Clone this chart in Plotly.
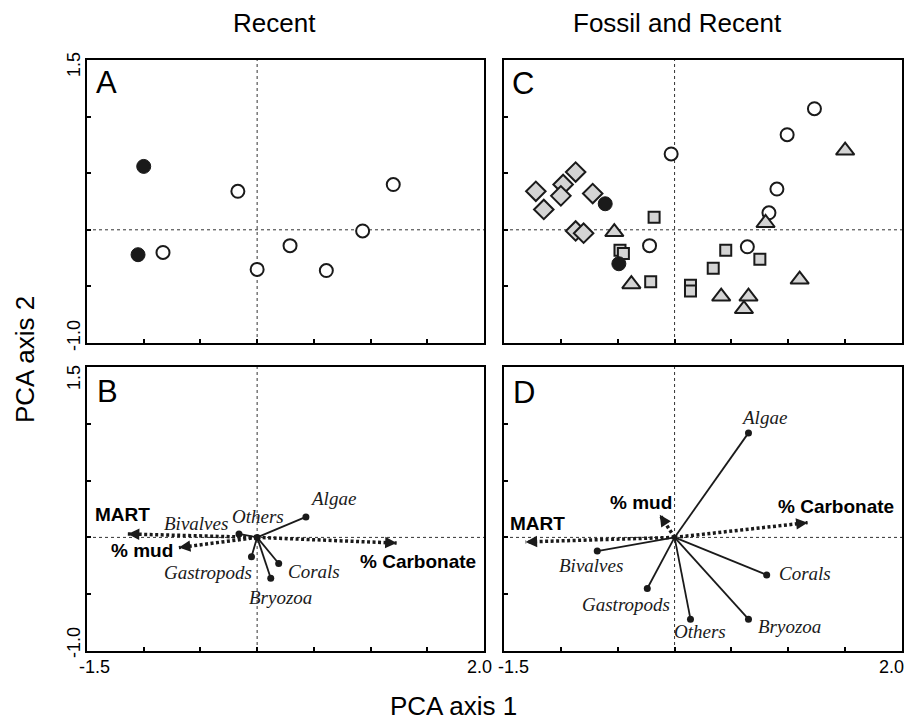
import math
import plotly.graph_objects as go

# ---------------- DATA ----------------
# Panel A (Recent): site scores
a_open_x = [-0.83, -0.17, 0.00, 0.29, 0.61, 0.93, 1.20]
a_open_y = [-0.20, 0.34, -0.35, -0.14, -0.36, -0.01, 0.40]
a_filled_x = [-1.00, -1.05]
a_filled_y = [0.56, -0.22]

# Panel C (Fossil and Recent): site scores
c_open_x = [1.23, 0.99, -0.03, 0.90, 0.83, -0.22, 0.64]
c_open_y = [1.07, 0.84, 0.67, 0.36, 0.15, -0.14, -0.15]
c_filled_x = [-0.61, -0.49]
c_filled_y = [0.23, -0.30]
c_diamond_x = [-0.87, -0.98, -1.22, -1.00, -0.72, -1.15, -0.87, -0.80]
c_diamond_y = [0.51, 0.40, 0.34, 0.30, 0.32, 0.18, -0.01, -0.03]
c_square_x = [-0.18, -0.48, -0.45, -0.21, 0.14, 0.14, 0.45, 0.34, 0.75]
c_square_y = [0.11, -0.18, -0.21, -0.46, -0.49, -0.54, -0.18, -0.34, -0.26]
c_triangle_x = [1.50, 0.80, -0.53, -0.38, 1.10, 0.41, 0.65, 0.61]
c_triangle_y = [0.70, 0.06, -0.02, -0.48, -0.44, -0.59, -0.59, -0.70]

# Species loadings
species = ["Algae", "Bivalves", "Gastropods", "Corals", "Bryozoa", "Others"]
b_species_x = [0.43, -0.16, -0.05, 0.19, 0.12, 0.00]
b_species_y = [0.18, 0.03, -0.17, -0.23, -0.36, 0.00]
d_species_x = [0.65, -0.68, -0.24, 0.81, 0.65, 0.14]
d_species_y = [0.92, -0.12, -0.45, -0.33, -0.72, -0.72]

# Environmental vectors
env = ["MART", "% mud", "% Carbonate"]
b_env_x = [-1.14, -0.69, 1.23]
b_env_y = [0.03, -0.09, -0.05]
d_env_x = [-1.31, -0.13, 1.17]
d_env_y = [-0.04, 0.20, 0.13]

x_range = [-1.5, 2.0]
y_range = [-1.0, 1.5]

# ---------------- STYLE / LAYOUT ----------------
W, H = 907, 723
SANS = "Liberation Sans, Arial, Helvetica, sans-serif"
SERIF = "Liberation Serif, Times New Roman, serif"
GRAY = "#d4d4d4"
INK = "#1a1a1a"

# label pixel offsets (dx, dy up) relative to vector ends
b_species_off = {"Algae": (27, 18), "Bivalves": (-43, 10), "Gastropods": (-43, -16),
                 "Corals": (35, -8), "Bryozoa": (10, -19), "Others": (1, 21)}
d_species_off = {"Algae": (16, 15), "Bivalves": (-6, -14), "Gastropods": (-21, -16),
                 "Corals": (38, 1), "Bryozoa": (41, -7), "Others": (10, -12)}
b_env_off = {"MART": (-5, 19), "% mud": (-37, -3), "% Carbonate": (21, -18)}
d_env_off = {"MART": (12, 18), "% mud": (-19, 12), "% Carbonate": (28, 16)}


def px(xp):
    return xp / W


def py(yp):
    return 1 - yp / H


dom_left = [px(87), px(484)]
dom_right = [px(504), px(902)]
dom_top = [py(343), py(60)]
dom_bot = [py(651), py(367)]

fig = go.Figure()

# panels: A -> (x, y), C -> (x2, y2), B -> (x3, y3), D -> (x4, y4)
panels = {
    "A": ("x", "y", dom_left, dom_top),
    "C": ("x2", "y2", dom_right, dom_top),
    "B": ("x3", "y3", dom_left, dom_bot),
    "D": ("x4", "y4", dom_right, dom_bot),
}

axis_common = dict(showgrid=False, zeroline=False, showline=True, linecolor="black",
                   linewidth=2, mirror=True, ticks="inside", ticklen=4, tickwidth=1.5,
                   tickcolor="black", dtick=0.5, showticklabels=False, fixedrange=True)

layout_axes = {}
for name, (xa, ya, xd, yd) in panels.items():
    xkey = "xaxis" + xa[1:]
    ykey = "yaxis" + ya[1:]
    layout_axes[xkey] = dict(axis_common, domain=xd, range=x_range, anchor=ya, tick0=-1.5)
    layout_axes[ykey] = dict(axis_common, domain=yd, range=y_range, anchor=xa, tick0=-1.0)

shapes = []
for name, (xa, ya, xd, yd) in panels.items():
    shapes.append(dict(type="line", xref=xa, yref=ya + " domain", x0=0, x1=0, y0=0, y1=1,
                       line=dict(color="#333333", width=1, dash="dot"), layer="below"))
    shapes.append(dict(type="line", xref=xa + " domain", yref=ya, x0=0, x1=1, y0=0, y1=0,
                       line=dict(color="#333333", width=1, dash="dot"), layer="below"))


def open_circles(xs, ys, xa, ya):
    fig.add_trace(go.Scatter(x=xs, y=ys, xaxis=xa, yaxis=ya, mode="markers",
                             marker=dict(symbol="circle", size=13, color="white",
                                         line=dict(color=INK, width=2))))


def filled_circles(xs, ys, xa, ya):
    fig.add_trace(go.Scatter(x=xs, y=ys, xaxis=xa, yaxis=ya, mode="markers",
                             marker=dict(symbol="circle", size=14, color=INK,
                                         line=dict(color=INK, width=1))))


# Panel A
open_circles(a_open_x, a_open_y, "x", "y")
filled_circles(a_filled_x, a_filled_y, "x", "y")

# Panel C
open_circles(c_open_x, c_open_y, "x2", "y2")
fig.add_trace(go.Scatter(x=c_diamond_x, y=c_diamond_y, xaxis="x2", yaxis="y2", mode="markers",
                         marker=dict(symbol="diamond", size=15, color=GRAY,
                                     line=dict(color=INK, width=2))))
fig.add_trace(go.Scatter(x=c_triangle_x, y=c_triangle_y, xaxis="x2", yaxis="y2", mode="markers",
                         marker=dict(symbol="triangle-up", size=16, color=GRAY,
                                     line=dict(color=INK, width=2))))
fig.add_trace(go.Scatter(x=c_square_x, y=c_square_y, xaxis="x2", yaxis="y2", mode="markers",
                         marker=dict(symbol="square", size=11, color=GRAY,
                                     line=dict(color=INK, width=2))))
filled_circles(c_filled_x, c_filled_y, "x2", "y2")

annotations = []


def biplot(sx, sy, ex, ey, xa, ya, s_off, e_off):
    # species vectors
    for name, x, y in zip(species, sx, sy):
        fig.add_trace(go.Scatter(x=[0, x], y=[0, y], xaxis=xa, yaxis=ya, mode="lines",
                                 line=dict(color=INK, width=1.8)))
        fig.add_trace(go.Scatter(x=[x], y=[y], xaxis=xa, yaxis=ya, mode="markers",
                                 marker=dict(symbol="circle", size=7, color=INK)))
        dx, dy = s_off[name]
        annotations.append(dict(x=x, y=y, xref=xa, yref=ya, text="<i>" + name + "</i>",
                                showarrow=False, xshift=dx, yshift=dy,
                                font=dict(family=SERIF, size=19, color=INK)))
    # environmental vectors (dotted lines + arrowheads)
    for name, x, y in zip(env, ex, ey):
        fig.add_trace(go.Scatter(x=[0, x], y=[0, y], xaxis=xa, yaxis=ya, mode="lines",
                                 line=dict(color=INK, width=3.5, dash="3px,2.5px")))
        n = math.hypot(x, y)
        annotations.append(dict(x=x, y=y, xref=xa, yref=ya, text="", showarrow=True,
                                ax=-x / n * 7, ay=y / n * 7, arrowhead=2, arrowsize=1.15,
                                arrowwidth=2, arrowcolor=INK, standoff=0, startstandoff=0))
        dx, dy = e_off[name]
        annotations.append(dict(x=x, y=y, xref=xa, yref=ya, text="<b>" + name + "</b>",
                                showarrow=False, xshift=dx, yshift=dy,
                                font=dict(family=SANS, size=19, color="black")))


biplot(b_species_x, b_species_y, b_env_x, b_env_y, "x3", "y3", b_species_off, b_env_off)
biplot(d_species_x, d_species_y, d_env_x, d_env_y, "x4", "y4", d_species_off, d_env_off)


def text(xp, yp, s, size, angle=0, xanchor="center", family=SANS):
    annotations.append(dict(x=px(xp), y=py(yp), xref="paper", yref="paper", text=s,
                            showarrow=False, textangle=angle, xanchor=xanchor,
                            yanchor="middle", font=dict(family=family, size=size, color="black")))


# column titles and axis titles
text(274, 23, "Recent", 26)
text(677, 23, "Fossil and Recent", 26)
text(453, 706, "PCA axis 1", 26)
text(25, 360, "PCA axis 2", 26, angle=-90)

# panel letters
text(94, 82, "A", 31, xanchor="left")
text(95, 391, "B", 31, xanchor="left")
text(510, 83, "C", 31, xanchor="left")
text(511, 392, "D", 31, xanchor="left")

# tick labels
for yc in (65, 378):
    text(74, yc, "1.5", 18, angle=-90)
for yc in (336, 643):
    text(74, yc, "-1.0", 18, angle=-90)
text(94, 667, "-1.5", 18)
text(479, 667, "2.0", 18)
text(513, 667, "-1.5", 18)
text(891, 667, "2.0", 18)

fig.update_layout(
    width=W, height=H, autosize=False,
    margin=dict(l=0, r=0, t=0, b=0),
    paper_bgcolor="white", plot_bgcolor="white",
    showlegend=False, shapes=shapes, annotations=annotations,
    font=dict(family=SANS, color="black"),
    **layout_axes,
)

fig.write_html("out.html", config={"displayModeBar": False},
               post_script="document.body.style.margin='0px';"
                           "document.body.style.overflow='hidden';")
